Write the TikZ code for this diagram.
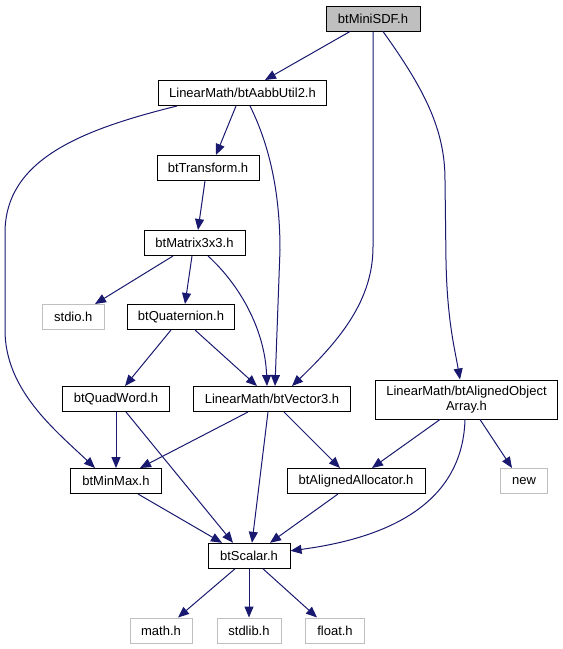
\documentclass[tikz,border=0pt]{standalone}
\usepackage{fontspec}
\setmainfont{Liberation Sans}
\usetikzlibrary{arrows.meta}
\definecolor{edgeblue}{RGB}{25,25,112}
\definecolor{boxgray}{RGB}{191,191,191}
\begin{document}
\begin{tikzpicture}[x=1pt,y=-1pt,
  file/.style={draw=black, line width=1pt, fill=white, inner sep=0pt, minimum height=25pt, font=\fontsize{13}{15.5}\selectfont},
  ext/.style={file, draw=boxgray},
  cur/.style={file, fill=boxgray},
  dep/.style={draw=edgeblue, line width=1pt, -{Triangle[length=11pt,width=9pt]}}]
\useasboundingbox (0,0) rectangle (563,649);

\node[cur, minimum width=94pt] (mini) at (373,18.5) {btMiniSDF.h};
\node[file, minimum width=168pt] (aabb) at (242.5,93) {LinearMath/btAabbUtil2.h};
\node[file, minimum width=102pt] (trans) at (208,168) {btTransform.h};
\node[file, minimum width=101pt] (mat) at (194.5,243) {btMatrix3x3.h};
\node[ext, minimum width=62pt] (stdio) at (73.3,317) {stdio.h};
\node[file, minimum width=107pt] (quat) at (181,317) {btQuaternion.h};
\node[file, minimum width=107pt] (quad) at (116,399) {btQuadWord.h};
\node[file, minimum width=157pt] (vec) at (272,399) {LinearMath/btVector3.h};
\node[file, minimum width=182pt, minimum height=39pt, align=center] (obj) at (466.5,399.5) {LinearMath/btAlignedObject\\Array.h};
\node[file, minimum width=91pt] (minmax) at (116,481) {btMinMax.h};
\node[file, minimum width=138pt] (alloc) at (356,481) {btAlignedAllocator.h};
\node[ext, minimum width=47pt] (new) at (524,481) {new};
\node[file, minimum width=82pt] (scalar) at (249,555.8) {btScalar.h};
\node[ext, minimum width=62pt] (math) at (161,630.5) {math.h};
\node[ext, minimum width=64pt] (stdlib) at (249,630.5) {stdlib.h};
\node[ext, minimum width=59pt] (float) at (335,630.5) {float.h};

% btMiniSDF.h
\draw[dep] ([xshift=-23pt]mini.south) -- ([xshift=22.5pt]aabb.north);
\draw[dep] (mini.south) -- (373,247) .. controls (373,300) and (340,340) .. ([xshift=20pt]vec.north);
\draw[dep] ([xshift=10pt]mini.south) .. controls (425,90) and (445,130) .. (445,180) -- (446,260) .. controls (447,320) and (455,350) .. ([xshift=-6.5pt]obj.north);
% btAabbUtil2.h
\draw[dep] ([xshift=-6.5pt]aabb.south) -- ([xshift=8pt]trans.north);
\draw[dep] ([xshift=-65.5pt]aabb.south) .. controls (80,130) and (5,160) .. (5,233) -- (5,330) .. controls (5,390) and (55,430) .. ([xshift=-21pt]minmax.north);
\draw[dep] ([xshift=7.5pt]aabb.south) .. controls (272,150) and (280,200) .. (280,250) -- ([xshift=3pt]vec.north);
% btTransform.h
\draw[dep] ([xshift=-3pt]trans.south) -- ([xshift=3.5pt]mat.north);
% btMatrix3x3.h
\draw[dep] ([xshift=-21.5pt]mat.south) -- ([xshift=21.7pt]stdio.north);
\draw[dep] ([xshift=-2.5pt]mat.south) -- ([xshift=4pt]quat.north);
\draw[dep] ([xshift=13.5pt]mat.south) .. controls (240,285) and (265,330) .. ([xshift=-5pt]vec.north);
% btQuaternion.h
\draw[dep] ([xshift=-10pt]quat.south) -- ([xshift=9pt]quad.north);
\draw[dep] ([xshift=14pt]quat.south) -- ([xshift=-15pt]vec.north);
% btQuadWord.h
\draw[dep] (quad.south) -- (minmax.north);
\draw[dep] ([xshift=10pt]quad.south) -- ([xshift=-16pt]scalar.north);
% btVector3.h
\draw[dep] ([xshift=-24pt]vec.south) -- ([xshift=24pt]minmax.north);
\draw[dep] ([xshift=-4pt]vec.south) -- ([xshift=3pt]scalar.north);
\draw[dep] ([xshift=12pt]vec.south) -- ([xshift=-16pt]alloc.north);
% btAlignedObjectArray.h
\draw[dep] ([xshift=-26.5pt]obj.south) -- ([xshift=16pt]alloc.north);
\draw[dep] ([xshift=-1.5pt]obj.south) .. controls (463,490) and (410,535) .. ([yshift=5pt]scalar.east);
\draw[dep] ([xshift=13.5pt]obj.south) -- ([xshift=-12pt]new.north);
% btMinMax.h, btAlignedAllocator.h
\draw[dep] ([xshift=22pt]minmax.south) -- ([xshift=-27pt]scalar.north);
\draw[dep] ([xshift=-18pt]alloc.south) -- ([xshift=21pt]scalar.north);
% btScalar.h
\draw[dep] ([xshift=-14pt]scalar.south) -- ([xshift=17pt]math.north);
\draw[dep] (scalar.south) -- (stdlib.north);
\draw[dep] ([xshift=14pt]scalar.south) -- ([xshift=-18pt]float.north);
\end{tikzpicture}
\end{document}
